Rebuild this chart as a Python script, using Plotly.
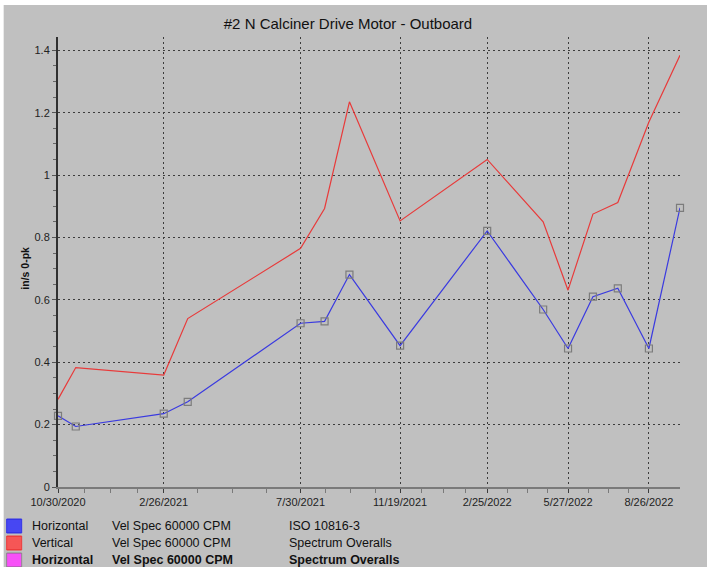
import pandas as pd
import plotly.graph_objects as go

_BG = "#c0c0c0"
_GRID = "#3c3c3c"
_TEXT = "#1a1a1a"
_BLUE = "#3a3ae0"
_RED = "#e83a3a"
_FONT = "Liberation Sans, Arial, sans-serif"

dates = [
    "2020-10-30", "2020-11-19", "2021-02-26", "2021-03-25", "2021-07-30",
    "2021-08-26", "2021-09-23", "2021-11-19", "2022-02-25", "2022-04-29",
    "2022-05-27", "2022-06-24", "2022-07-22", "2022-08-26", "2022-09-30",
]
horizontal = [0.228, 0.194, 0.235, 0.273, 0.525, 0.531, 0.681, 0.453,
              0.821, 0.569, 0.444, 0.610, 0.637, 0.444, 0.895]
vertical = [0.281, 0.383, 0.359, 0.54, 0.765, 0.893, 1.235, 0.853,
            1.050, 0.850, 0.631, 0.875, 0.912, 1.170, 1.384]

tick_dates = ["2020-10-30", "2021-02-26", "2021-07-30", "2021-11-19",
              "2022-02-25", "2022-05-27", "2022-08-26"]
tick_labels = ["10/30/2020", "2/26/2021", "7/30/2021", "11/19/2021",
               "2/25/2022", "5/27/2022", "8/26/2022"]

legend_rows = [
    ("Horizontal", "Vel Spec 60000 CPM", "ISO 10816-3", "#3434e6", "#5a5aff", False),
    ("Vertical", "Vel Spec 60000 CPM", "Spectrum Overalls", "#ec3c3c", "#ff7070", False),
    ("Horizontal", "Vel Spec 60000 CPM", "Spectrum Overalls", "#f030f0", "#ff70ff", True),
]

W, H = 707, 567
L, R, T, B = 58.3, 680.0, 37.0, 487.0


def px(x):
    return (x - L) / (R - L)


def py(y):
    return (B - y) / (B - T)


# minor ticks: four divisions between labelled dates
td = pd.to_datetime(tick_dates)
minor = []
for a, b in zip(td[:-1], td[1:]):
    for k in (1, 2, 3):
        minor.append(a + (b - a) * k / 4)

fig = go.Figure()
fig.add_trace(go.Scatter(
    x=dates, y=vertical, mode="lines", name="Vertical",
    line=dict(color=_RED, width=1.2), cliponaxis=False,
))
fig.add_trace(go.Scatter(
    x=dates, y=horizontal, mode="lines+markers", name="Horizontal",
    line=dict(color=_BLUE, width=1.2),
    marker=dict(symbol="square-open", size=7, color="#7c7c7c",
                line=dict(width=1.2)),
    cliponaxis=False,
))

# grey panel, leaving a thin white strip along the top and left edges
shapes = [
    dict(type="rect", xref="paper", yref="paper", x0=px(4), x1=px(W + 10),
         y0=py(H + 10), y1=py(5), fillcolor=_BG, line_width=0, layer="below"),
]
annotations = []
row_y = [526, 543, 560]
for (a, b, c, fill, stripe, bold), yc in zip(legend_rows, row_y):
    shapes.append(dict(
        type="rect", xref="paper", yref="paper",
        x0=px(7), x1=px(22), y0=py(yc + 7), y1=py(yc - 7),
        fillcolor=fill, line=dict(color="#8a8a8a" if bold else fill, width=1),
    ))
    for s in range(-5, 7, 2):
        shapes.append(dict(
            type="line", xref="paper", yref="paper",
            x0=px(7.5), x1=px(21.5), y0=py(yc + s), y1=py(yc + s),
            line=dict(color=stripe, width=1),
        ))
    for txt, x in ((a, 30), (b, 110), (c, 287)):
        annotations.append(dict(
            text=f"<b>{txt}</b>" if bold else txt,
            xref="paper", yref="paper", x=px(x), y=py(yc),
            xanchor="left", yanchor="middle", showarrow=False,
            font=dict(size=12.5, color="#111", family=_FONT),
        ))

annotations.append(dict(
    text="<b>in/s 0-pk</b>", xref="paper", yref="paper",
    x=px(25), y=py(268), textangle=-90, showarrow=False,
    xanchor="center", yanchor="middle",
    font=dict(size=10.5, color="#111", family=_FONT),
))

fig.update_layout(
    width=W, height=H, autosize=False,
    paper_bgcolor="white", plot_bgcolor=_BG,
    font=dict(family=_FONT, color=_TEXT, size=11),
    title=dict(text="#2 N Calciner Drive Motor - Outboard",
               x=348 / W, xref="container", xanchor="center",
               y=1 - 24 / H, yref="container", yanchor="middle",
               font=dict(size=15, color="#111", family=_FONT)),
    margin=dict(l=L, r=W - R, t=T, b=H - B),
    showlegend=False,
    shapes=shapes,
    annotations=annotations,
)
fig.update_xaxes(
    type="date", range=["2020-10-30", "2022-09-30"],
    tickmode="array", tickvals=tick_dates, ticktext=tick_labels,
    tickfont=dict(size=11, color="#222"),
    showgrid=True, gridcolor=_GRID, gridwidth=1, griddash="2px,3px",
    ticks="outside", ticklen=4, tickcolor=_GRID,
    minor=dict(tickmode="array", tickvals=minor, ticks="outside",
               ticklen=4, tickcolor="#7a7a7a", showgrid=False),
    showline=True, linecolor="#7a7a7a", linewidth=2,
    zeroline=False,
)
fig.update_yaxes(
    range=[0, (B - T) / (B - 50.3) * 1.4], dtick=0.2, tick0=0,
    tickfont=dict(size=11, color="#222"),
    showgrid=True, gridcolor=_GRID, gridwidth=1, griddash="2px,3px",
    ticks="outside", ticklen=4, tickcolor="#555",
    minor=dict(dtick=0.05, ticks="outside", ticklen=3, tickcolor="#666",
               showgrid=False),
    showline=True, linecolor="#303030", linewidth=2,
    zeroline=False,
)

fig.write_html(
    "out.html",
    config={"displayModeBar": False},
    post_script="document.body.style.margin='0';",
)
